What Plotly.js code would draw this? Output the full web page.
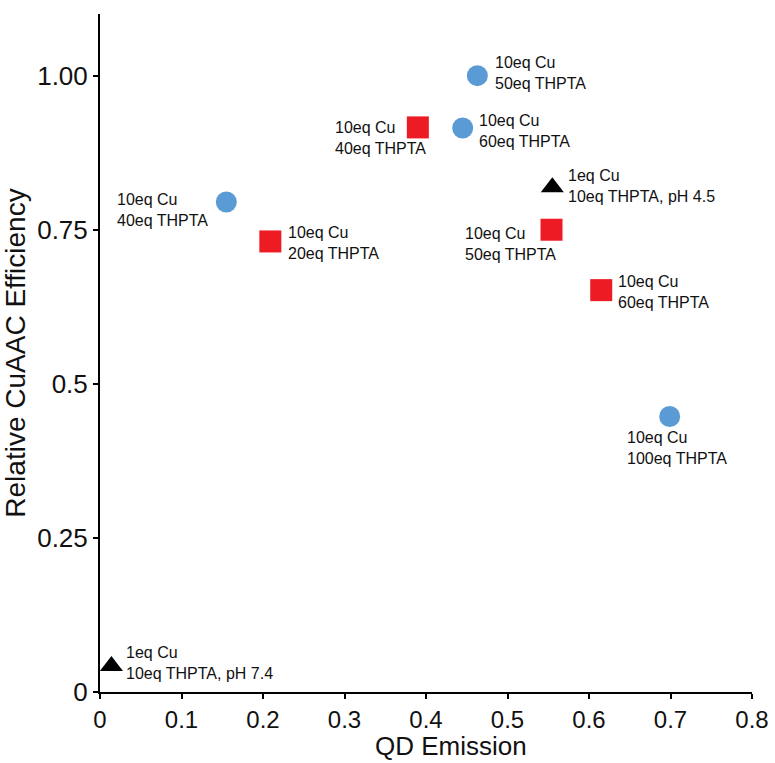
<!DOCTYPE html>
<html>
<head>
<meta charset="utf-8">
<script src="https://cdn.plot.ly/plotly-3.0.1.min.js"></script>
<style>html,body{margin:0;padding:0;background:#fff;}#chart{width:775px;height:763px;}</style>
</head>
<body>
<div id="chart"></div>
<script>
// ---- data ----
const circleX = [0.155, 0.463, 0.445, 0.699];
const circleY = [0.795, 1.0, 0.915, 0.447];
const circleLabels = ["10eq Cu<br>40eq THPTA", "10eq Cu<br>50eq THPTA", "10eq Cu<br>60eq THPTA", "10eq Cu<br>100eq THPTA"];

const squareX = [0.209, 0.390, 0.554, 0.615];
const squareY = [0.731, 0.916, 0.750, 0.652];
const squareLabels = ["10eq Cu<br>20eq THPTA", "10eq Cu<br>40eq THPTA", "10eq Cu<br>50eq THPTA", "10eq Cu<br>60eq THPTA"];

const triangleX = [0.555, 0.014];
const triangleY = [0.819, 0.042];
const triangleLabels = ["1eq Cu<br>10eq THPTA, pH 4.5", "1eq Cu<br>10eq THPTA, pH 7.4"];

const xTickVals = [0, 0.1, 0.2, 0.3, 0.4, 0.5, 0.6, 0.7, 0.8];
const xTickText = ["0", "0.1", "0.2", "0.3", "0.4", "0.5", "0.6", "0.7", "0.8"];
const yTickVals = [0, 0.25, 0.5, 0.75, 1.0];
const yTickText = ["0", "0.25", "0.5", "0.75", "1.00"];

const xTitle = "QD Emission";
const yTitle = "Relative CuAAC Efficiency";

// ---- label placement (pixel offsets from each point) ----
const circleLabelPos = [
  {xanchor: "right", xshift: -16, yshift: -8},
  {xanchor: "left", xshift: 16, yshift: 3},
  {xanchor: "left", xshift: 14, yshift: -3},
  {xanchor: "left", xshift: -45, yshift: -32}
];
const squareLabelPos = [
  {xanchor: "left", xshift: 16, yshift: -2},
  {xanchor: "left", xshift: -85, yshift: -11},
  {xanchor: "left", xshift: -89, yshift: -14},
  {xanchor: "left", xshift: 15, yshift: -2}
];
const triangleLabelPos = [
  {xanchor: "left", xshift: 14, yshift: 1},
  {xanchor: "left", xshift: 13, yshift: 3}
];

const FONT = "Arial, 'Liberation Sans', sans-serif";

const traces = [
  {x: circleX, y: circleY, type: "scatter", mode: "markers", cliponaxis: false,
   marker: {symbol: "circle", size: 21, color: "#5B9BD5"}},
  {x: squareX, y: squareY, type: "scatter", mode: "markers", cliponaxis: false,
   marker: {symbol: "square", size: 22, color: "#ED1C24"}},
  {x: triangleX, y: triangleY, type: "scatter", mode: "markers", cliponaxis: false,
   marker: {symbol: "triangle-up", size: 20, color: "#000000"}}
];

function buildAnnotations(xs, ys, labels, pos) {
  return xs.map((x, i) => ({
    x: x, y: ys[i], xref: "x", yref: "y", text: labels[i], showarrow: false,
    align: "left", xanchor: pos[i].xanchor, yanchor: "middle",
    xshift: pos[i].xshift, yshift: pos[i].yshift,
    font: {family: FONT, size: 16, color: "#111"}
  }));
}

const annotations = []
  .concat(buildAnnotations(circleX, circleY, circleLabels, circleLabelPos))
  .concat(buildAnnotations(squareX, squareY, squareLabels, squareLabelPos))
  .concat(buildAnnotations(triangleX, triangleY, triangleLabels, triangleLabelPos))
  .concat([{
    x: 0.538, y: 0, xref: "paper", yref: "paper", text: xTitle, showarrow: false,
    xanchor: "center", yanchor: "bottom", yshift: -70, borderpad: 0,
    font: {family: FONT, size: 26, color: "#111"}
  }]);

const layout = {
  width: 775, height: 763,
  margin: {l: 100, r: 23, t: 14, b: 71},
  paper_bgcolor: "#fff", plot_bgcolor: "#fff",
  showlegend: false,
  font: {family: FONT, color: "#111"},
  xaxis: {
    range: [0, 0.8], tickvals: xTickVals, ticktext: xTickText,
    showgrid: false, zeroline: false, showline: true, linecolor: "#000", linewidth: 2,
    ticks: "outside", ticklen: 5, tickwidth: 2, tickcolor: "#000",
    tickfont: {family: FONT, size: 24, color: "#111"}
  },
  yaxis: {
    range: [0, 1.1], tickvals: yTickVals, ticktext: yTickText,
    showgrid: false, zeroline: false, showline: true, linecolor: "#000", linewidth: 2,
    ticks: "outside", ticklen: 5, tickwidth: 2, tickcolor: "#000",
    tickfont: {family: FONT, size: 26, color: "#111"},
    title: {text: yTitle, font: {family: FONT, size: 28, color: "#111"}, standoff: 12}
  },
  annotations: annotations
};

Plotly.newPlot("chart", traces, layout, {displayModeBar: false, staticPlot: true});
</script>
</body>
</html>
